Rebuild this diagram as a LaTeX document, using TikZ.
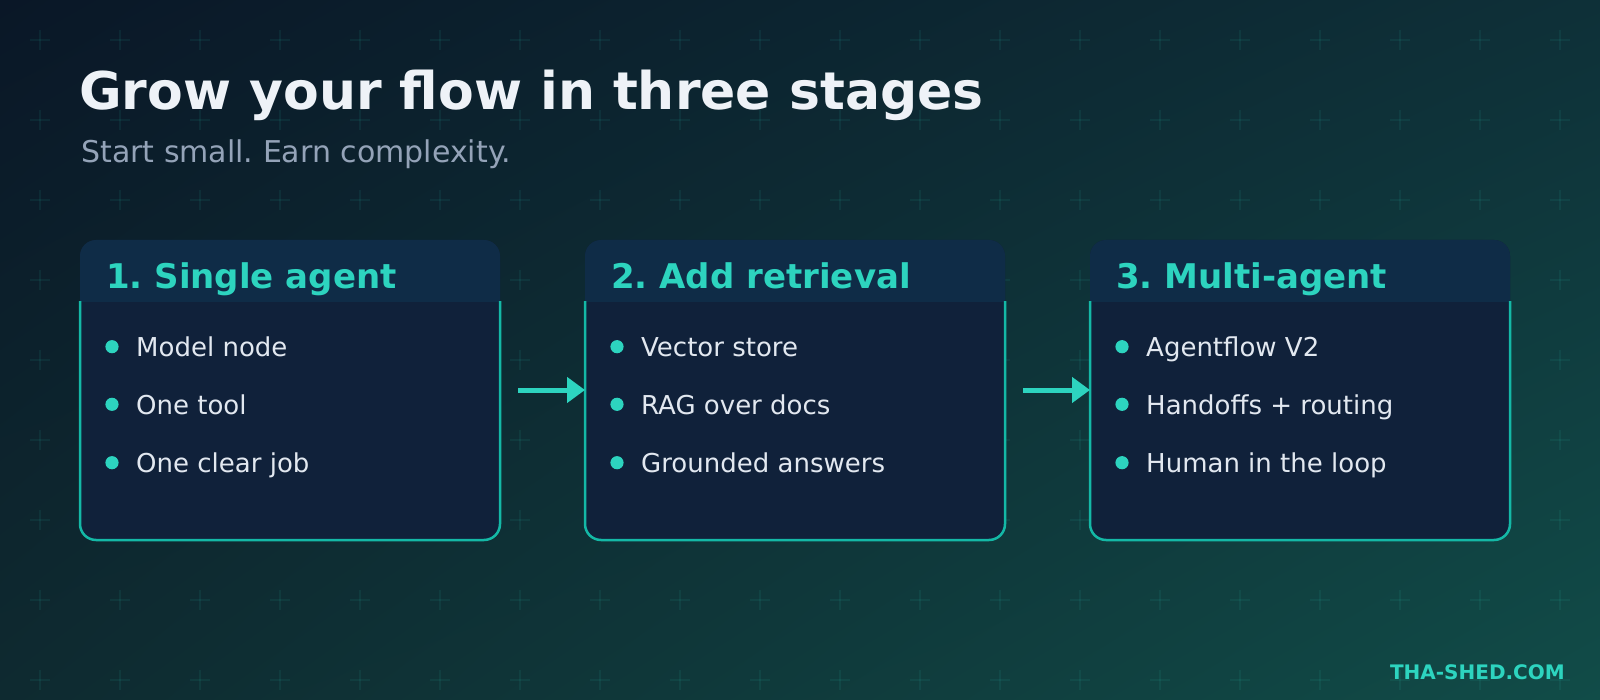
\documentclass[tikz,border=0pt]{standalone}
\usepackage{fontspec}
\setmainfont{DejaVu Sans}
\frenchspacing
\usetikzlibrary{arrows.meta,shadings}
\definecolor{bgUL}{HTML}{0A1727}
\definecolor{bgUR}{HTML}{0E3038}
\definecolor{bgLL}{HTML}{0E2A30}
\definecolor{bgLR}{HTML}{114C48}
\definecolor{bodyfill}{HTML}{10213A}
\definecolor{headfill}{HTML}{0F2C47}
\definecolor{accent}{HTML}{2DD4BF}
\definecolor{bordercol}{HTML}{14B8A6}
\definecolor{titlecol}{HTML}{EEF2F7}
\definecolor{subcol}{HTML}{94A3B8}
\definecolor{itemcol}{HTML}{E2E8F0}
\tikzset{
  plusmark/.style={draw=accent, draw opacity=0.08, line width=2pt},
  cardbox/.style={minimum width=420pt, minimum height=300pt, inner sep=0pt, outer sep=0pt, fill=bodyfill, rounded corners=16pt},
  cardborder/.style={draw=bordercol, line width=2.5pt, rounded corners=16pt},
  headtext/.style={anchor=base west, inner sep=0pt, text=accent, font=\fontsize{34}{40}\selectfont\bfseries},
  itemtext/.style={anchor=base west, inner sep=0pt, text=itemcol, font=\fontsize{26}{30}\selectfont},
  dot/.style={fill=accent},
  conn/.style={draw=accent, line width=5pt, shorten <=18pt, -{Triangle[length=18pt,width=25pt]}}
}
\newcommand\stagecard[6]{%
  \node[cardbox] (#1) at ({#2+210},390) {};
  \begin{scope}
    \clip ({#2-5},235) rectangle ({#2+425},302);
    \fill[headfill, rounded corners=16pt] (#2,240) rectangle ({#2+420},540);
  \end{scope}
  \begin{scope}
    \clip ({#2-5},302) rectangle ({#2+425},545);
    \draw[cardborder] (#2,240) rectangle ({#2+420},540);
  \end{scope}
  \node[headtext] (#1h) at ({#2+26},288.5) {#3};
  \fill[dot] ({#2+32},346.7) circle[radius=6.6pt];
  \fill[dot] ({#2+32},404.3) circle[radius=6.6pt];
  \fill[dot] ({#2+32},462.7) circle[radius=6.6pt];
  \node[itemtext] (#1a) at ({#2+56},356.7) {#4};
  \node[itemtext] (#1b) at ({#2+56},414.8) {#5};
  \node[itemtext] (#1c) at ({#2+56},472.7) {#6};
}
\begin{document}
\begin{tikzpicture}[x=1pt,y=-1pt]
\useasboundingbox (0,0) rectangle (1600,700);
\shade[upper left=bgUL, upper right=bgUR, lower left=bgLL, lower right=bgLR] (0,0) rectangle (1600,700);
\foreach \i in {0,...,19} {
  \foreach \j in {0,...,8} {
    \draw[plusmark] ({30+80*\i},{40+80*\j}) -- ++(20,0);
    \draw[plusmark] ({40+80*\i},{30+80*\j}) -- ++(0,20);
  }
}
\node[anchor=base west, inner sep=0pt, text=titlecol, font=\fontsize{52}{60}\selectfont\bfseries] (title) at (79,110) {Grow your flow in three stages};
\node[anchor=base west, inner sep=0pt, text=subcol, font=\fontsize{30}{34}\selectfont] (subtitle) at (81,162.5) {Start small. Earn complexity.};
\stagecard{b1}{80}{1. Single agent}{Model node}{One tool}{One clear job}
\stagecard{b2}{585}{2. Add retrieval}{Vector store}{RAG over docs}{Grounded answers}
\stagecard{b3}{1090}{3. Multi-agent}{Agentflow V2}{Handoffs + routing}{Human in the loop}
\draw[conn] (b1.east) -- (b2.west);
\draw[conn] (b2.east) -- (b3.west);
\node[anchor=base east, inner sep=0pt, text=accent, font=\fontsize{20}{24}\selectfont\bfseries] (footer) at (1565,679.5) {THA-SHED.COM};
\end{tikzpicture}
\end{document}
